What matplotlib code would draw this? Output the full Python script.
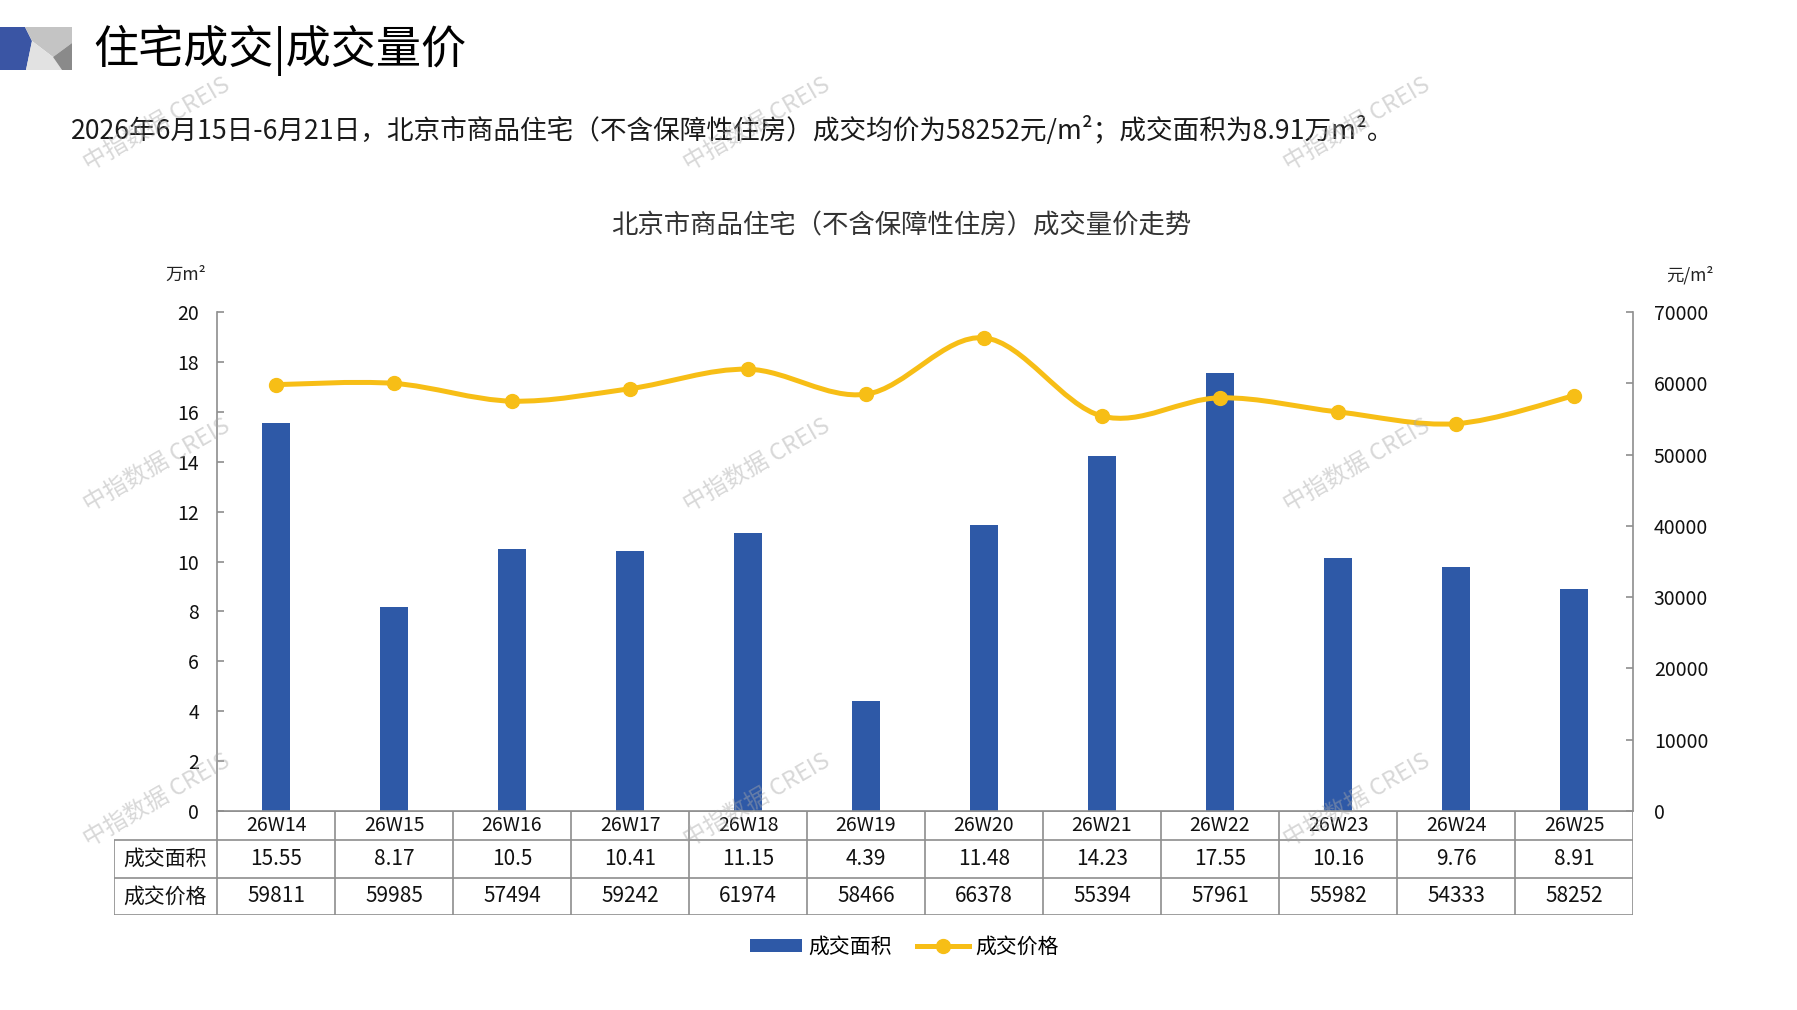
import matplotlib
matplotlib.use('Agg')
import matplotlib.pyplot as plt
from matplotlib.path import Path
from matplotlib.patches import PathPatch, Polygon, Patch
from matplotlib.lines import Line2D
import numpy as np

plt.rcParams['font.family'] = ['Noto Sans CJK SC', 'DejaVu Sans']

# ---------------- data ----------------
weeks = ['26W14', '26W15', '26W16', '26W17', '26W18', '26W19',
         '26W20', '26W21', '26W22', '26W23', '26W24', '26W25']
area = [15.55, 8.17, 10.5, 10.41, 11.15, 4.39, 11.48, 14.23, 17.55, 10.16, 9.76, 8.91]
price = [59811, 59985, 57494, 59242, 61974, 58466, 66378, 55394, 57961, 55982, 54333, 58252]
area_ticks = list(range(0, 21, 2))
price_ticks = list(range(0, 70001, 10000))
row_labels = ['成交面积', '成交价格']
series_names = ['成交面积', '成交价格']
page_title = '住宅成交|成交量价'
subtitle = '2026年6月15日-6月21日，北京市商品住宅（不含保障性住房）成交均价为58252元/m²；成交面积为8.91万m²。'
chart_title = '北京市商品住宅（不含保障性住房）成交量价走势'
left_unit = '万m²'
right_unit = '元/m²'
watermark = '中指数据 CREIS'

# ---------------- style ----------------
BLUE = '#2E59A7'
GOLD = '#F7BE16'
GRAY = '#8E8E8E'
W, H = 1797, 1010


def fx(px):
    return px / W


def fy(py):
    return 1 - py / H


fig = plt.figure(figsize=(W / 100, H / 100), dpi=100)
fig.patch.set_facecolor('white')

# ---------------- logo ----------------
logo_parts = [
    ([(0, 27), (25, 27), (32, 41), (26, 70), (0, 70)], '#3A55A4'),
    ([(25, 27), (72, 27), (72, 43), (53, 57), (32, 41)], '#C4C4C4'),
    ([(32, 41), (53, 57), (62, 70), (26, 70)], '#E2E2E2'),
    ([(53, 57), (72, 43), (72, 70), (62, 70)], '#8A8A8A'),
]
for pts, c in logo_parts:
    fig.add_artist(Polygon([(fx(a), fy(b)) for a, b in pts], closed=True,
                           transform=fig.transFigure, facecolor=c, edgecolor='none'))

fig.text(fx(93), fy(50), page_title, fontsize=32.5, color='black', ha='left', va='center')
fig.text(fx(71), fy(130), subtitle, fontsize=19.2, color='#1a1a1a', ha='left', va='center')
fig.text(fx(901), fy(226), chart_title, fontsize=19, color='#333333', ha='center', va='center')
fig.text(fx(186), fy(275), left_unit, fontsize=12.5, color='#222222', ha='center', va='center')
fig.text(fx(1690), fy(275), right_unit, fontsize=12.5, color='#222222', ha='center', va='center')

# ---------------- main axes ----------------
L, R, T, B = 217, 1633, 312, 811
ax = fig.add_axes([fx(L), fy(B), fx(R) - fx(L), fy(T) - fy(B)])
x = np.arange(len(weeks))
ax.bar(x, area, width=0.245, color=BLUE, zorder=2)
ax.set_xlim(-0.5, len(weeks) - 0.5)
ax.set_ylim(0, 20)
ax.set_yticks(area_ticks)
ax.set_xticks([])
for s in ['top', 'right']:
    ax.spines[s].set_visible(False)
for s in ['left', 'bottom']:
    ax.spines[s].set_color(GRAY)
    ax.spines[s].set_linewidth(1.2)
ax.tick_params(axis='y', direction='in', length=5, color=GRAY, width=1.2,
               pad=13, labelsize=14, labelcolor='#111111')

ax2 = ax.twinx()
ax2.set_ylim(0, 70000)
ax2.set_yticks(price_ticks)
for s in ['top', 'left', 'bottom']:
    ax2.spines[s].set_visible(False)
ax2.spines['right'].set_color(GRAY)
ax2.spines['right'].set_linewidth(1.2)
ax2.tick_params(axis='y', direction='in', length=5, color=GRAY, width=1.2,
                pad=15, labelsize=14, labelcolor='#111111')

# smoothed line (cubic Bezier through the data points)
pts = np.column_stack([x, price]).astype(float)
verts = [tuple(pts[0])]
codes = [Path.MOVETO]
n = len(pts)
for i in range(n - 1):
    p0 = pts[i - 1] if i > 0 else pts[i]
    p1 = pts[i]
    p2 = pts[i + 1]
    p3 = pts[i + 2] if i + 2 < n else pts[i + 1]
    c1 = p1 + (p2 - p0) / 6.0
    c2 = p2 - (p3 - p1) / 6.0
    verts += [tuple(c1), tuple(c2), tuple(p2)]
    codes += [Path.CURVE4, Path.CURVE4, Path.CURVE4]
ax2.add_patch(PathPatch(Path(verts, codes), facecolor='none', edgecolor=GOLD,
                        lw=3.6, capstyle='round', joinstyle='round', zorder=3))
ax2.plot(x, price, linestyle='none', marker='o', ms=10, color=GOLD, zorder=4)

# ---------------- data table ----------------
TL, TB = 114, 915
tax = fig.add_axes([fx(TL), fy(TB), fx(R) - fx(TL), fy(B) - fy(TB)])
tax.axis('off')
cat_w = (R - L) / len(weeks)
lab_left = -0.5 - (L - TL) / cat_w
tax.set_xlim(lab_left, len(weeks) - 0.5)
tax.set_ylim(TB, B)
row_edges = [811, 840, 878, 915]
lkw = dict(color=GRAY, lw=1.2, solid_capstyle='butt')
tax.plot([-0.5, len(weeks) - 0.5], [row_edges[0]] * 2, **lkw)
for ye in row_edges[1:]:
    tax.plot([lab_left, len(weeks) - 0.5], [ye, ye], **lkw)
tax.plot([lab_left, lab_left], [row_edges[1], row_edges[3]], **lkw)
for i in range(len(weeks) + 1):
    tax.plot([i - 0.5, i - 0.5], [row_edges[0], row_edges[3]], **lkw)

rc = [(row_edges[k] + row_edges[k + 1]) / 2 for k in range(3)]
for i, wk in enumerate(weeks):
    tax.text(i, rc[0], wk, ha='center', va='center', fontsize=14, color='#111111')
    tax.text(i, rc[1], f'{area[i]:g}', ha='center', va='center', fontsize=15, color='#111111')
    tax.text(i, rc[2], str(price[i]), ha='center', va='center', fontsize=15, color='#111111')
for k, lab in enumerate(row_labels):
    tax.text((lab_left - 0.5) / 2, rc[k + 1], lab, ha='center', va='center',
             fontsize=15, color='#111111')

# ---------------- legend ----------------
handles = [Patch(facecolor=BLUE, edgecolor='none'),
           Line2D([], [], color=GOLD, lw=3.6, marker='o', ms=10)]
fig.legend(handles, series_names, loc='center', bbox_to_anchor=(fx(904), fy(947)),
           ncol=2, frameon=False, fontsize=15, handlelength=2.5, handleheight=0.6,
           columnspacing=1.2, handletextpad=0.3)

# ---------------- watermarks ----------------
for wx in [157, 757, 1357]:
    for wy in [124, 465, 800]:
        fig.text(fx(wx), fy(wy), watermark, rotation=30, ha='center', va='center',
                 fontsize=17, color='#A8A8A8', alpha=0.45, zorder=10)

fig.savefig('out.png', dpi=100, facecolor='white')
